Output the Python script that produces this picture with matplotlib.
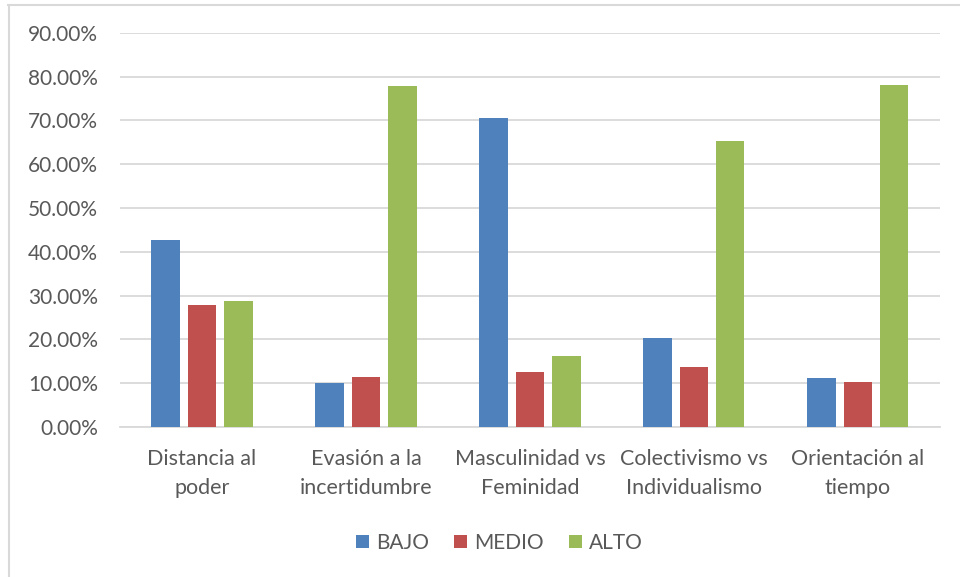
# Grouped bar chart, Hofstede dimensions by level

import numpy as np
import matplotlib.pyplot as plt
from matplotlib.lines import Line2D
from matplotlib.ticker import FuncFormatter

plt.rcParams['font.family'] = ['Lato', 'DejaVu Sans']

# Data
categories = ["Distancia al\npoder", "Evasión a la\nincertidumbre", "Masculinidad vs\nFeminidad",
              "Colectivismo vs\nIndividualismo", "Orientación al\ntiempo"]
series_names = ["BAJO", "MEDIO", "ALTO"]
bajo = [42.8, 10.0, 70.6, 20.3, 11.1]
medio = [27.8, 11.5, 12.5, 13.7, 10.2]
alto = [28.8, 77.9, 16.3, 65.4, 78.0]
colors = ["#4F81BD", "#C0504D", "#9BBB59"]

text_color = "#595959"
grid_color = "#D9D9D9"

fig = plt.figure(figsize=(9.6, 5.77), dpi=100)
ax = fig.add_axes([0.125, 0.26, 0.854, 0.683])

# Chart area border (only top and left edges fall inside the image)
fig.lines.append(Line2D([8 / 960, 1.0], [1 - 4.5 / 577] * 2, transform=fig.transFigure,
                        color=grid_color, linewidth=1.5))
fig.lines.append(Line2D([8.5 / 960] * 2, [0.0, 1 - 4.5 / 577], transform=fig.transFigure,
                        color=grid_color, linewidth=1.5))

x = np.arange(len(categories))
bar_w = 0.175
step = 0.221
for i, (vals, name) in enumerate(zip([bajo, medio, alto], series_names)):
    ax.bar(x + (i - 1) * step, vals, width=bar_w, color=colors[i], label=name, zorder=3)

ax.set_xlim(-0.5, len(categories) - 0.5)
ax.set_ylim(0, 90)
ax.set_yticks(np.arange(0, 91, 10))
ax.yaxis.set_major_formatter(FuncFormatter(lambda v, p: f"{v:.2f}%"))
ax.set_xticks(x)
ax.set_xticklabels(categories)

ax.grid(axis="y", color=grid_color, linewidth=1.3, zorder=0)
for s in ["top", "right", "left"]:
    ax.spines[s].set_visible(False)
ax.spines["bottom"].set_color(grid_color)
ax.spines["bottom"].set_linewidth(1.3)
ax.tick_params(axis="both", length=0, colors=text_color)
ax.tick_params(axis="y", pad=16, labelsize=15)
ax.tick_params(axis="x", pad=16, labelsize=15.5)
for lab in ax.get_xticklabels():
    lab.set_linespacing(1.55)

ax.legend(loc="center", bbox_to_anchor=(0.463, -0.294), ncol=3, frameon=False,
          fontsize=15, labelcolor=text_color, handlelength=0.62, handleheight=0.62,
          handletextpad=0.35, columnspacing=1.2)

plt.savefig("out.png", dpi=100)
